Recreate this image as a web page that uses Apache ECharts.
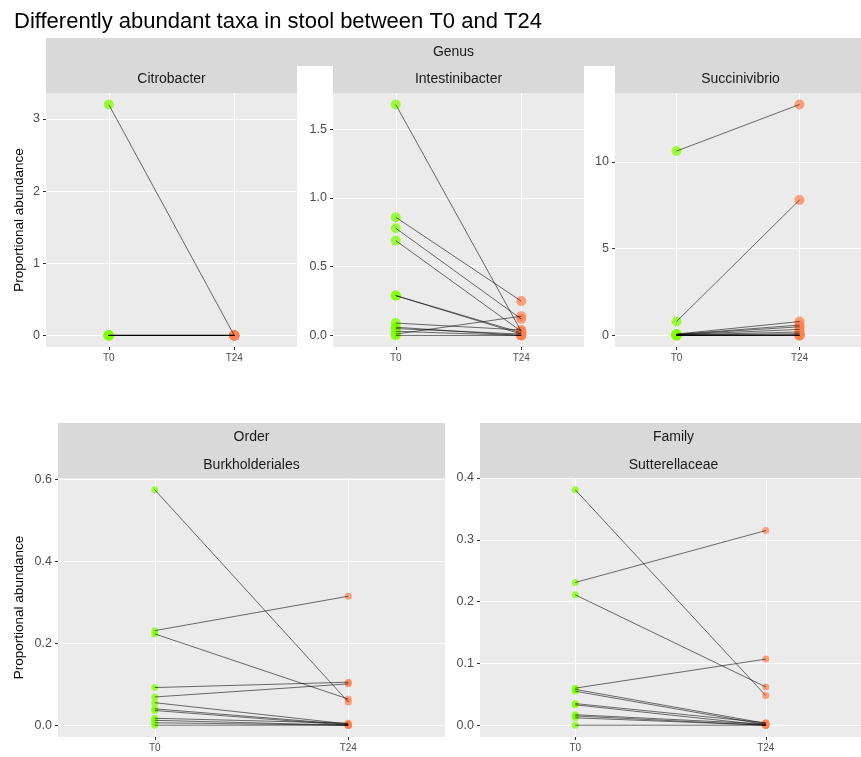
<!DOCTYPE html>
<html><head><meta charset="utf-8">
<script src="https://cdn.jsdelivr.net/npm/echarts@6/dist/echarts.min.js"></script>
<style>html,body{margin:0;padding:0;background:#fff}#c{width:861px;height:757px}</style>
</head><body><div id="c"></div>
<script>
// ---- data ----
const timepoints = ['T0', 'T24'];
const titleText = 'Differently abundant taxa in stool between T0 and T24';
const yAxisTitle = 'Proportional abundance';

const citrobacterT0  = [3.20, 0, 0, 0, 0, 0, 0, 0, 0, 0, 0, 0];
const citrobacterT24 = [0, 0, 0, 0, 0, 0, 0, 0, 0, 0, 0, 0];
const citrobacterTicks = [0, 1, 2, 3];

const intestinibacterT0  = [1.68, 0.86, 0.78, 0.69, 0.29, 0.29, 0.09, 0.06, 0.05, 0.03, 0.01, 0.00];
const intestinibacterT24 = [0.03, 0.25, 0.12, 0.03, 0.02, 0.01, 0.04, 0.00, 0.01, 0.00, 0.14, 0.00];
const intestinibacterTicks = [0, 0.5, 1.0, 1.5];

const succinivibrioT0  = [10.62, 0.80, 0.08, 0.06, 0.05, 0.04, 0.03, 0.02, 0.01, 0.00, 0.00, 0.00];
const succinivibrioT24 = [13.30, 7.80, 0.80, 0.60, 0.50, 0.35, 0.20, 0.10, 0.05, 0.00, 0.00, 0.00];
const succinivibrioTicks = [0, 5, 10];

const burkholderialesT0  = [0.575, 0.231, 0.223, 0.092, 0.069, 0.055, 0.040, 0.036, 0.017, 0.012, 0.006, 0.000];
const burkholderialesT24 = [0.057, 0.315, 0.064, 0.105, 0.101, 0.003, 0.002, 0.000, 0.005, 0.000, 0.000, 0.000];
const burkholderialesTicks = [0, 0.2, 0.4, 0.6];

const sutterellaceaeT0  = [0.381, 0.231, 0.211, 0.060, 0.058, 0.055, 0.035, 0.033, 0.017, 0.015, 0.012, 0.000];
const sutterellaceaeT24 = [0.048, 0.315, 0.062, 0.107, 0.003, 0.001, 0.004, 0.000, 0.002, 0.000, 0.000, 0.000];
const sutterellaceaeTicks = [0, 0.1, 0.2, 0.3, 0.4];

const genusLabel = 'Genus';
const orderLabel = 'Order';
const familyLabel = 'Family';

// ---- layout / styling ----
const FONT = '"Liberation Sans", Arial, Helvetica, sans-serif';
const panels = [
  {strip: 'Citrobacter', t0: citrobacterT0, t24: citrobacterT24, ticks: citrobacterTicks, dec: 0,
   min: -0.16, max: 3.36, g: {left: 46, top: 93, width: 251, height: 254}, size: 10, yName: true, nameGap: 20},
  {strip: 'Intestinibacter', t0: intestinibacterT0, t24: intestinibacterT24, ticks: intestinibacterTicks, dec: 1,
   min: -0.084, max: 1.764, g: {left: 333, top: 93, width: 251, height: 254}, size: 10},
  {strip: 'Succinivibrio', t0: succinivibrioT0, t24: succinivibrioT24, ticks: succinivibrioTicks, dec: 0,
   min: -0.665, max: 13.965, g: {left: 615, top: 93, width: 251, height: 254}, size: 10},
  {strip: 'Burkholderiales', t0: burkholderialesT0, t24: burkholderialesT24, ticks: burkholderialesTicks, dec: 1,
   min: -0.02875, max: 0.60375, g: {left: 58, top: 478, width: 387, height: 259}, size: 7, yName: true, nameGap: 32},
  {strip: 'Sutterellaceae', t0: sutterellaceaeT0, t24: sutterellaceaeT24, ticks: sutterellaceaeTicks, dec: 1,
   min: -0.01905, max: 0.40005, g: {left: 480, top: 478, width: 387, height: 259}, size: 7}
];

const GREEN = 'rgba(127,255,0,0.92)';
const ORANGE = 'rgba(255,127,80,0.9)';
const STRIP = '#D9D9D9';
const PANEL = '#EBEBEB';

const grids = [], xAxes = [], yAxes = [], series = [], graphics = [];

panels.forEach((p, i) => {
  grids.push(Object.assign({show: true, backgroundColor: PANEL, borderWidth: 0, containLabel: false}, p.g));
  xAxes.push({
    gridIndex: i, type: 'value', min: -0.5, max: 1.5, position: 'bottom',
    axisLine: {show: false, onZero: false},
    axisTick: {show: true, length: 3, lineStyle: {color: '#333333', width: 1}, customValues: [0, 1]},
    axisLabel: {customValues: [0, 1], formatter: v => timepoints[Math.round(v)], color: '#4D4D4D',
                fontSize: 10, fontFamily: FONT, margin: 6},
    splitLine: {show: true, lineStyle: {color: '#FFFFFF', width: 1.1}}
  });
  const ya = {
    gridIndex: i, type: 'value', min: p.min, max: p.max, position: 'left',
    axisLine: {show: false, onZero: false},
    axisTick: {show: true, length: 3, lineStyle: {color: '#333333', width: 1}, customValues: p.ticks},
    axisLabel: {customValues: p.ticks, formatter: v => Number(v).toFixed(p.dec), color: '#4D4D4D',
                fontSize: 12.5, fontFamily: FONT, margin: 6},
    splitLine: {show: true, lineStyle: {color: '#FFFFFF', width: 1.1}}
  };
  if (p.yName) {
    Object.assign(ya, {name: yAxisTitle, nameLocation: 'middle', nameGap: p.nameGap,
      nameTextStyle: {color: '#000', fontSize: 13.5, fontFamily: FONT}});
  }
  yAxes.push(ya);

  series.push({
    type: 'scatter', xAxisIndex: i, yAxisIndex: i, symbolSize: p.size, z: 2,
    itemStyle: {color: GREEN}, silent: true,
    data: p.t0.map(v => [0, v])
  });
  series.push({
    type: 'scatter', xAxisIndex: i, yAxisIndex: i, symbolSize: p.size, z: 2,
    itemStyle: {color: ORANGE}, silent: true,
    data: p.t24.map(v => [1, v])
  });
  p.t0.forEach((v, k) => {
    series.push({
      type: 'line', xAxisIndex: i, yAxisIndex: i, z: 3, silent: true,
      symbol: 'none', animation: false,
      lineStyle: {color: 'rgba(0,0,0,0.75)', width: 0.75},
      data: [[0, v], [1, p.t24[k]]]
    });
  });
});

// strips
const topStripY = 38, subStripY = 66, subStripH = 27;
graphics.push({type: 'rect', shape: {x: 46, y: topStripY, width: 820, height: subStripY - topStripY},
  style: {fill: STRIP}, z: 0});
graphics.push({type: 'text', x: 453.5, y: 52, style: {text: genusLabel, fill: '#1A1A1A', font: '14px ' + FONT,
  textAlign: 'center', textVerticalAlign: 'middle'}, z: 1});
for (let i = 0; i < 3; i++) {
  const g = panels[i].g;
  graphics.push({type: 'rect', shape: {x: g.left, y: subStripY, width: g.width, height: subStripH},
    style: {fill: STRIP}, z: 0});
  graphics.push({type: 'text', x: g.left + g.width / 2, y: subStripY + subStripH / 2,
    style: {text: panels[i].strip, fill: '#1A1A1A', font: '14px ' + FONT, textAlign: 'center', textVerticalAlign: 'middle'}, z: 1});
}
const bottomLabels = [orderLabel, familyLabel];
for (let i = 3; i < 5; i++) {
  const g = panels[i].g;
  graphics.push({type: 'rect', shape: {x: g.left, y: 423, width: g.width, height: 55},
    style: {fill: STRIP}, z: 0});
  graphics.push({type: 'text', x: g.left + g.width / 2, y: 437,
    style: {text: bottomLabels[i - 3], fill: '#1A1A1A', font: '14px ' + FONT, textAlign: 'center', textVerticalAlign: 'middle'}, z: 1});
  graphics.push({type: 'text', x: g.left + g.width / 2, y: 465,
    style: {text: panels[i].strip, fill: '#1A1A1A', font: '14px ' + FONT, textAlign: 'center', textVerticalAlign: 'middle'}, z: 1});
}

const chart = echarts.init(document.getElementById('c'), null, {renderer: 'canvas'});
chart.setOption({
  animation: false,
  backgroundColor: '#FFFFFF',
  title: {text: titleText, left: 9, top: 6,
    textStyle: {color: '#000', fontSize: 22, fontWeight: 'normal', fontFamily: FONT}},
  grid: grids, xAxis: xAxes, yAxis: yAxes, series: series,
  graphic: graphics
});
</script></body></html>
